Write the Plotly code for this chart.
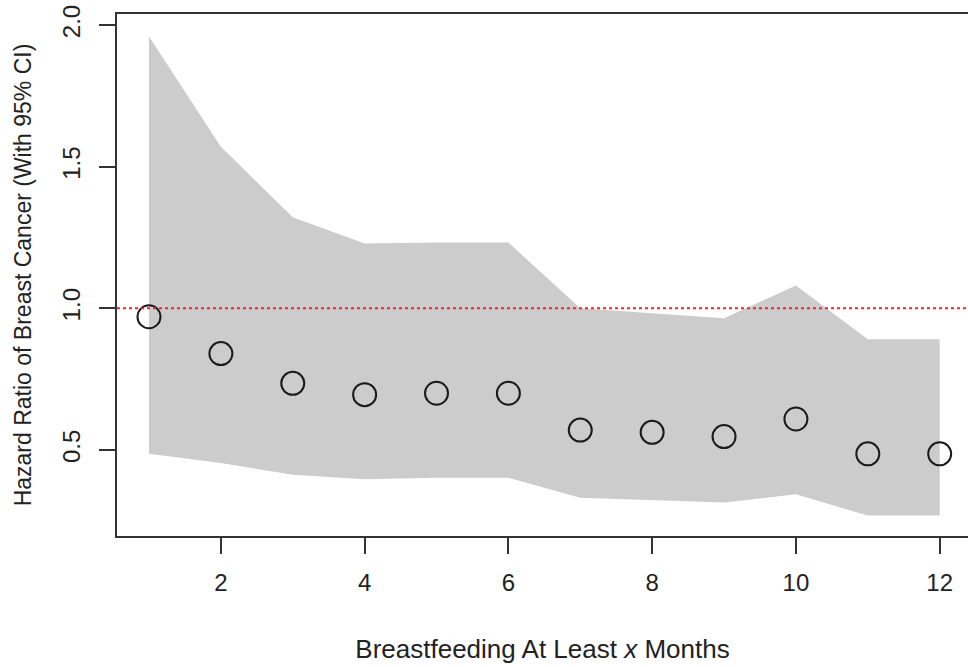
import plotly.graph_objects as go

months = [1, 2, 3, 4, 5, 6, 7, 8, 9, 10, 11, 12]
hazard_ratio = [0.97, 0.84, 0.735, 0.695, 0.70, 0.70, 0.57, 0.562, 0.547, 0.609, 0.486, 0.486]
ci_lower = [0.486, 0.454, 0.412, 0.396, 0.402, 0.402, 0.331, 0.323, 0.314, 0.343, 0.268, 0.268]
ci_upper = [1.96, 1.57, 1.321, 1.229, 1.232, 1.232, 1.0, 0.982, 0.965, 1.08, 0.891, 0.891]
x_ticks = [2, 4, 6, 8, 10, 12]
y_ticks = [0.5, 1.0, 1.5, 2.0]
y_tick_labels = ["0.5", "1.0", "1.5", "2.0"]
reference_hr = 1.0

FONT = "Liberation Sans, Arial, Helvetica, sans-serif"

fig = go.Figure()

# CI band
fig.add_trace(go.Scatter(
    x=months + months[::-1],
    y=ci_upper + ci_lower[::-1],
    fill="toself",
    fillcolor="#CCCCCC",
    line=dict(width=0),
    mode="lines",
    hoverinfo="skip",
    showlegend=False,
))

# Reference line
fig.add_hline(y=reference_hr, line=dict(color="#FF2020", width=2, dash="dot"))

# Points
fig.add_trace(go.Scatter(
    x=months,
    y=hazard_ratio,
    mode="markers",
    marker=dict(symbol="circle-open", size=23, color="#1a1a1a", line=dict(width=2, color="#1a1a1a")),
    showlegend=False,
))

fig.update_layout(
    width=968,
    height=667,
    margin=dict(l=117, r=0, t=14, b=131),
    paper_bgcolor="white",
    plot_bgcolor="white",
    font=dict(family=FONT, size=24, color="#222222"),
    showlegend=False,
)

fig.update_xaxes(
    range=[0.555, 12.394],
    tickmode="array",
    tickvals=x_ticks,
    ticktext=[str(v) for v in x_ticks],
    ticks="outside",
    ticklen=16,
    tickwidth=1.5,
    tickcolor="#333333",
    tickfont=dict(size=24),
    ticklabelstandoff=8,
    showline=True,
    linecolor="#333333",
    linewidth=1.5,
    mirror=True,
    showgrid=False,
    zeroline=False,
    title=dict(text="Breastfeeding At Least <i>x</i> Months", standoff=45, font=dict(size=26)),
)

fig.update_yaxes(
    range=[0.196, 2.039],
    tickmode="array",
    tickvals=y_ticks,
    ticktext=y_tick_labels,
    tickangle=-90,
    ticks="outside",
    ticklen=16,
    tickwidth=1.5,
    tickcolor="#333333",
    tickfont=dict(size=24),
    ticklabelstandoff=10,
    showline=True,
    linecolor="#333333",
    linewidth=1.5,
    mirror=False,
    showgrid=False,
    zeroline=False,
    title=dict(text="Hazard Ratio of Breast Cancer (With 95% CI)", standoff=20, font=dict(size=23)),
)

fig.write_html("out.html")
